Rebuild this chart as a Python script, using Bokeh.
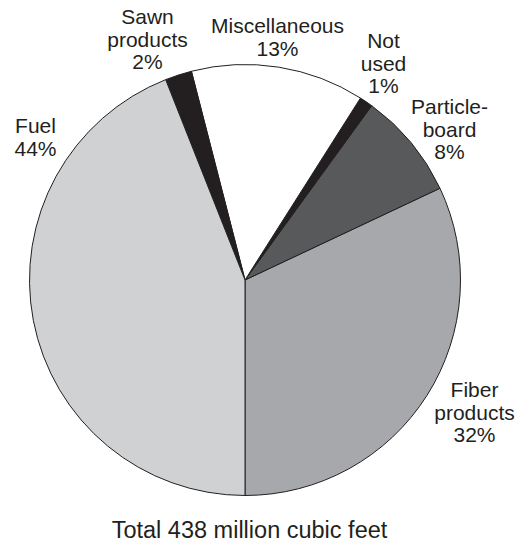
import numpy as np
from bokeh.plotting import figure
from bokeh.models import Range1d, ColumnDataSource
from bokeh.core.properties import value
from bokeh.embed import file_html
from bokeh.resources import INLINE

# ---- data ----
categories = ["Fiber products", "Particleboard", "Not used", "Miscellaneous", "Sawn products", "Fuel"]
percents = [32, 8, 1, 13, 2, 44]
label_lines = [
    ["Fiber", "products", "32%"],
    ["Particle-", "board", "8%"],
    ["Not", "used", "1%"],
    ["Miscellaneous", "13%"],
    ["Sawn", "products", "2%"],
    ["Fuel", "44%"],
]
colors = ["#a7a8ab", "#58595b", "#231f20", "#ffffff", "#231f20", "#d0d1d3"]
total_text = "Total 438 million cubic feet"

# ---- layout (screen px -> data coords, y up) ----
W, H = 523, 542
def sy(y):
    return H - y

TEXT_SHIFT = -7  # compensate renderer baseline offset
cx, cy, r = 244.5, sy(279.5), 215.5
label_pos = [(474, 396), (449, 113), (383, 47), (277, 32), (147, 23), (35, 132)]
line_gap = 22.5

p = figure(width=W, height=H, output_backend="svg", toolbar_location=None,
           x_range=Range1d(0, W), y_range=Range1d(0, H),
           min_border=0, outline_line_color=None)
p.axis.visible = False
p.grid.visible = False
p.background_fill_color = "white"
p.border_fill_color = "white"

frac = np.array(percents, dtype=float) / sum(percents)
ends = -np.pi / 2 + 2 * np.pi * np.cumsum(frac)
starts = np.concatenate([[-np.pi / 2], ends[:-1]])
src = ColumnDataSource(dict(start=starts, end=ends, color=colors, cat=categories))
p.wedge(x=cx, y=cy, radius=r, start_angle="start", end_angle="end",
        fill_color="color", line_color="#231f20", line_width=1, source=src)

xs, ys, ts = [], [], []
for (lx, ly), lines in zip(label_pos, label_lines):
    for i, t in enumerate(lines):
        xs.append(lx)
        ys.append(sy(ly + i * line_gap + TEXT_SHIFT))
        ts.append(t)
p.text(x=xs, y=ys, text=ts, text_font=value("Liberation Sans"), text_font_size="21px",
       text_align="center", text_baseline="alphabetic", text_color="#231f20")

p.text(x=[249], y=[sy(536 + TEXT_SHIFT)], text=[total_text], text_font=value("Liberation Sans"),
       text_font_size="23.5px", text_align="center", text_baseline="alphabetic",
       text_color="#231f20")

open("out.html", "w").write(file_html(p, INLINE))
